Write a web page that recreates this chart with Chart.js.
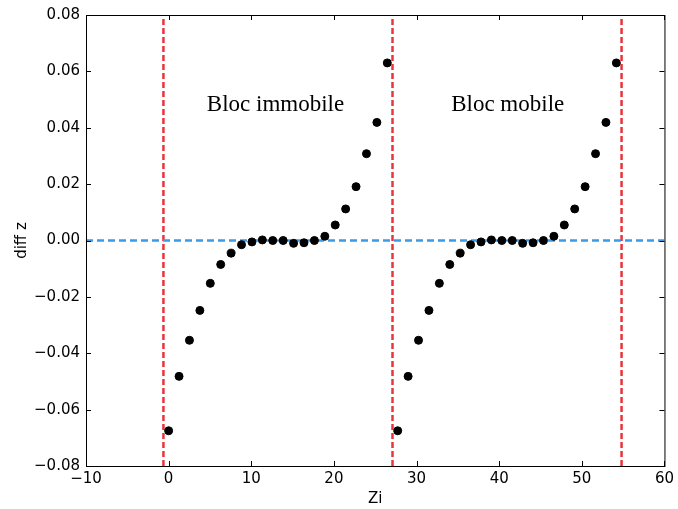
<!DOCTYPE html>
<html>
<head>
<meta charset="utf-8">
<script src="https://cdn.jsdelivr.net/npm/chart.js@4/dist/chart.umd.min.js"></script>
<style>
body { margin: 0; background: #fff; }
#wrap { width: 678px; height: 509px; }
</style>
</head>
<body>
<div id="wrap"><canvas id="c"></canvas></div>
<script>
// Zi positions and diff z values for each block
var zi_immobile = [0, 1.26, 2.52, 3.78, 5.04, 6.30, 7.56, 8.82, 10.08, 11.34, 12.60,
  13.86, 15.12, 16.38, 17.64, 18.90, 20.16, 21.42, 22.68, 23.94, 25.20, 26.46];
var diff_immobile = [-0.0675, -0.0482, -0.0354, -0.0248, -0.0152, -0.0085, -0.0045, -0.0015,
  -0.0005, 0.0002, 0.0000, 0.0000, -0.0010, -0.0008, 0.0000, 0.0015, 0.0055, 0.0112,
  0.0191, 0.0308, 0.0419, 0.0630];
var zi_mobile = [27.72, 28.98, 30.24, 31.50, 32.76, 34.02, 35.28, 36.54, 37.80, 39.06, 40.32,
  41.58, 42.84, 44.10, 45.36, 46.62, 47.88, 49.14, 50.40, 51.66, 52.92, 54.18];
var diff_mobile = [-0.0675, -0.0482, -0.0354, -0.0248, -0.0152, -0.0085, -0.0045, -0.0015,
  -0.0005, 0.0002, 0.0000, 0.0000, -0.0010, -0.0008, 0.0000, 0.0015, 0.0055, 0.0112,
  0.0191, 0.0308, 0.0419, 0.0630];
var separations = [-0.63, 27.09, 54.81];
var labels = ["Bloc immobile", "Bloc mobile"];
var label_x = [12.93, 41.03];
var label_y = [0.0461, 0.0461];
var x_ticks = [-10, 0, 10, 20, 30, 40, 50, 60];
var y_ticks = [-0.08, -0.06, -0.04, -0.02, 0.00, 0.02, 0.04, 0.06, 0.08];

var pts = [];
for (var i = 0; i < zi_immobile.length; i++) pts.push({x: zi_immobile[i], y: diff_immobile[i]});
for (var j = 0; j < zi_mobile.length; j++) pts.push({x: zi_mobile[j], y: diff_mobile[j]});

var datasets = [{
  type: 'scatter',
  data: pts,
  backgroundColor: '#000',
  borderColor: '#000',
  pointRadius: 4,
  pointHoverRadius: 4,
  order: 0
}];
separations.forEach(function(s) {
  datasets.push({
    type: 'line',
    data: [{x: s, y: -0.08}, {x: s, y: 0.08}],
    borderColor: '#e8343a',
    borderWidth: 2.5,
    borderDash: [6, 3],
    pointRadius: 0,
    order: 2
  });
});
datasets.push({
  type: 'line',
  data: [{x: -10, y: 0}, {x: 60, y: 0}],
  borderColor: '#3b9be6',
  borderWidth: 2.5,
  borderDash: [7, 4],
  pointRadius: 0,
  order: 1
});

var fmt = function(v) { return (Math.abs(v) < 1e-9 ? 0 : v).toFixed(2).replace('-', '\u2212'); };

var frame = {
  id: 'frame',
  afterDatasetsDraw: function(chart) {
    var ctx = chart.ctx, a = chart.chartArea;
    var xs = chart.scales.x, ys = chart.scales.y;
    ctx.save();
    ctx.strokeStyle = '#000';
    ctx.lineWidth = 1;
    ctx.beginPath();
    x_ticks.forEach(function(t) {
      var px = Math.round(xs.getPixelForValue(t)) + 0.5;
      ctx.moveTo(px, a.bottom); ctx.lineTo(px, a.bottom - 5);
      ctx.moveTo(px, a.top); ctx.lineTo(px, a.top + 5);
    });
    y_ticks.forEach(function(t) {
      var py = Math.round(ys.getPixelForValue(t)) + 0.5;
      ctx.moveTo(a.left, py); ctx.lineTo(a.left + 5, py);
      ctx.moveTo(a.right, py); ctx.lineTo(a.right - 5, py);
    });
    ctx.stroke();
    ctx.strokeRect(a.left + 0.5, a.top + 0.5, a.right - a.left, a.bottom - a.top);
    ctx.fillStyle = '#000';
    ctx.font = '23px "Liberation Serif", serif';
    ctx.textAlign = 'center';
    ctx.textBaseline = 'alphabetic';
    for (var k = 0; k < labels.length; k++) {
      ctx.fillText(labels[k], xs.getPixelForValue(label_x[k]), ys.getPixelForValue(label_y[k]));
    }
    ctx.restore();
  }
};

var tickFont = {family: '"DejaVu Sans", sans-serif', size: 15};

new Chart(document.getElementById('c'), {
  data: {datasets: datasets},
  options: {
    responsive: true,
    maintainAspectRatio: false,
    animation: false,
    layout: {padding: {top: 15, right: 11, left: 0, bottom: 0}},
    plugins: {legend: {display: false}, tooltip: {enabled: false}},
    scales: {
      x: {
        type: 'linear',
        min: -10, max: 60,
        afterBuildTicks: function(s) { s.ticks = x_ticks.map(function(v) { return {value: v}; }); },
        afterFit: function(s) { s.height = 43; },
        grid: {display: false, drawTicks: false},
        border: {display: false},
        ticks: {color: '#000', font: tickFont, padding: 4, maxRotation: 0,
          callback: function(v) { return String(v).replace('-', '\u2212'); }},
        title: {display: true, text: 'Zi', color: '#000', font: tickFont, padding: {top: 0, bottom: 1}}
      },
      y: {
        type: 'linear',
        min: -0.08, max: 0.08,
        afterBuildTicks: function(s) { s.ticks = y_ticks.map(function(v) { return {value: v}; }); },
        afterFit: function(s) { s.width = 86; },
        grid: {display: false, drawTicks: false},
        border: {display: false},
        ticks: {color: '#000', font: tickFont, padding: 6, callback: fmt},
        title: {display: true, text: 'diff z', color: '#000', font: tickFont, padding: {top: 13, bottom: 0}}
      }
    }
  },
  plugins: [frame]
});
</script>
</body>
</html>
